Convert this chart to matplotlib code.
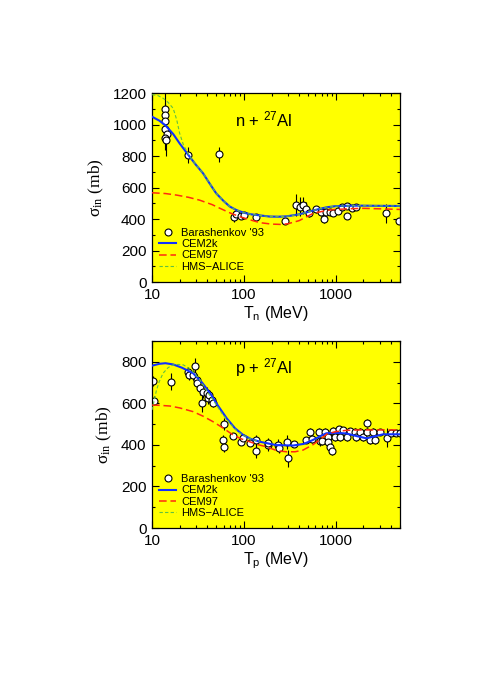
import matplotlib
matplotlib.use("Agg")
import matplotlib.pyplot as plt
from matplotlib.ticker import MultipleLocator, LogLocator, FixedLocator, NullFormatter
import numpy as np

plt.rcParams['font.family'] = ['Liberation Sans', 'DejaVu Sans']
plt.rcParams['mathtext.default'] = 'regular'

# ---- n + 27Al : Barashenkov '93 data ----
n_T = [13.8, 13.8, 13.9, 14.0, 14.4, 13.9, 14.1, 24.7, 53.5, 77.5, 82.6, 93.5, 101,
       135, 283, 367, 405, 440, 470, 515, 610, 695, 740, 780, 860, 930, 1050, 1170,
       1320, 1340, 1500, 1680, 3500, 4900]
n_sig = [1100, 1060, 1020, 970, 940, 915, 900, 805, 810, 410, 432, 421, 425,
         415, 390, 492, 478, 488, 466, 440, 461, 443, 398, 446, 446, 440, 453, 478,
         483, 419, 470, 478, 436, 389]
n_err = [40, 40, 180, 40, 30, 40, 100, 50, 50, 30, 20, 15, 15,
         15, 15, 70, 60, 55, 40, 30, 25, 25, 20, 20, 15, 15, 15, 20,
         20, 20, 20, 15, 60, 20]

# model curves, n + 27Al
n_cem2k_T = [10, 12, 14, 17, 20, 25, 30, 36, 43, 50, 60, 70, 83, 100, 120, 150, 190,
             240, 290, 400, 600, 800, 1000, 1500, 2000, 3000, 5000]
n_cem2k = [1050, 1025, 995, 940, 880, 805, 745, 690, 620, 563, 515, 480, 457, 440, 430,
           423, 416, 415, 417, 430, 458, 475, 482, 485, 485, 484, 483]
n_hms_T = [10, 11.5, 13.3, 15, 17, 18.6, 20, 22, 25, 30, 36, 43, 50, 60, 70, 83, 100,
           120, 150, 190, 240, 290, 400, 600, 800, 1000, 1500, 2000, 3000, 5000]
n_hms = [1190, 1185, 1166, 1140, 1103, 1029, 944, 870, 810, 745, 690, 620, 563, 515,
         480, 457, 440, 430, 423, 416, 415, 417, 430, 458, 475, 482, 485, 485, 484, 483]
n_cem97_T = [10, 14, 18.6, 25, 33, 45, 55, 70, 90, 120, 150, 200, 250, 300, 400, 566,
             800, 1000, 1500, 2000, 3000, 5000]
n_cem97 = [567, 562, 552, 538, 520, 492, 468, 440, 415, 393, 377, 368, 366, 370, 390,
           436, 455, 461, 466, 468, 465, 461]

# ---- p + 27Al : Barashenkov '93 data ----
p_T = [10.2, 10.5, 16.2, 24.8, 25.4, 27.7, 29.3, 30.6, 31, 33.2, 34.6, 36.1, 39.3, 41,
       42, 44.5, 46.4, 60.6, 59.7, 61.2, 76.4, 94, 98, 115.8, 134, 134, 182, 185, 234,
       240, 291, 303, 348, 470, 520, 556, 657, 666, 710, 760, 826, 830, 862, 905, 933,
       975, 1080, 1107, 1200, 1330, 1420, 1610, 1680, 1830, 1980, 2190, 2200, 2330,
       2530, 2700, 3020, 3640, 4020, 4540, 4950]
p_sig = [707, 613, 704, 752, 736, 736, 780, 712, 696, 672, 603, 656, 648, 624,
         640, 616, 603, 500, 424, 391, 443, 415, 432, 408, 424, 372, 398, 410, 400,
         384, 415, 335, 403, 424, 461, 428, 461, 417, 420, 461, 437, 415, 391, 371, 468,
         437, 475, 437, 472, 437, 468, 464, 437, 464, 440, 504, 464, 424,
         464, 424, 461, 435, 456, 456, 456]
p_err = [25, 20, 40, 25, 25, 25, 40, 30, 25, 30, 45, 30, 30, 25,
         25, 20, 20, 30, 25, 25, 15, 15, 15, 15, 25, 35, 25, 25, 30,
         25, 35, 40, 15, 15, 20, 20, 20, 20, 20, 20, 20, 20, 20, 20, 20,
         20, 15, 20, 15, 20, 15, 15, 20, 15, 20, 20, 15, 20,
         15, 20, 15, 45, 15, 15, 15]

p_cem2k_T = [10, 12, 14, 17, 21, 28, 35, 43, 52, 65, 80, 98, 120, 150, 225, 344, 450,
             566, 700, 790, 1000, 1300, 1700, 2150, 2700, 3270, 5000]
p_cem2k = [781, 790, 793, 787, 772, 745, 700, 648, 590, 528, 480, 448, 428, 415, 399,
           397, 405, 424, 445, 456, 458, 455, 442, 432, 442, 451, 451]
p_hms_T = [10, 11.2, 12, 13.2, 15, 17, 19.5, 21.9, 25, 28, 33, 40, 48, 58, 70, 85, 100,
           120, 150]
p_hms = [568, 664, 705, 745, 772, 785, 787, 785, 770, 752, 715, 655, 605, 550, 505, 465,
         445, 428, 415]
p_cem97_T = [10, 12.5, 15.7, 20, 28, 36, 46, 60, 76, 95, 116, 140, 176, 230, 291, 360,
             440, 560, 667, 800, 1000, 1300, 1830, 3000, 5000]
p_cem97 = [592, 590, 587, 578, 560, 538, 512, 480, 448, 428, 415, 402, 391, 372, 367,
           367, 375, 400, 424, 452, 464, 470, 472, 472, 472]

panels = [
    dict(T=n_T, sig=n_sig, err=n_err, c2T=n_cem2k_T, c2=n_cem2k, hT=n_hms_T, h=n_hms,
         c9T=n_cem97_T, c9=n_cem97, ymax=1200, title='n + $^{27}$Al',
         xlabel='T$_{n}$ (MeV)', rect=[0.3096, 0.593, 0.505, 0.2727]),
    dict(T=p_T, sig=p_sig, err=p_err, c2T=p_cem2k_T, c2=p_cem2k, hT=p_hms_T, h=p_hms,
         c9T=p_cem97_T, c9=p_cem97, ymax=900, title='p + $^{27}$Al',
         xlabel='T$_{p}$ (MeV)', rect=[0.3096, 0.238, 0.505, 0.270]),
]

fig = plt.figure(figsize=(4.91, 6.93), dpi=100)

for p in panels:
    ax = fig.add_axes(p['rect'])
    ax.set_facecolor('#ffff00')
    ax.errorbar(p['T'], p['sig'], yerr=p['err'], fmt='o', ms=5, mfc='white', mec='k',
                mew=0.8, ecolor='k', elinewidth=0.8, capsize=0, zorder=2)
    ax.plot(p['c2T'], p['c2'], color='#1030ff', lw=1.5, zorder=3)
    ax.plot(p['c9T'], p['c9'], color='#ff2a10', lw=1.1, dashes=(5, 2.5), zorder=3)
    ax.plot(p['hT'], p['h'], color='#60c040', lw=0.8, dashes=(3, 2), zorder=4)

    ax.set_xscale('log')
    ax.set_xlim(10, 5000)
    ax.set_ylim(0, p['ymax'])
    ax.yaxis.set_major_locator(MultipleLocator(200))
    ax.yaxis.set_minor_locator(MultipleLocator(100))
    ax.xaxis.set_major_locator(FixedLocator([10, 100, 1000]))
    ax.xaxis.set_major_formatter(matplotlib.ticker.FixedFormatter(['10', '100', '1000']))
    ax.xaxis.set_minor_locator(LogLocator(base=10, subs=np.arange(2, 10)))
    ax.xaxis.set_minor_formatter(NullFormatter())
    ax.tick_params(which='both', direction='in', top=True, right=True, labelsize=11,
                   width=0.8)
    ax.tick_params(which='major', length=5, pad=4)
    ax.tick_params(which='minor', length=2.5)
    for s in ax.spines.values():
        s.set_linewidth(0.9)

    ax.set_xlabel(p['xlabel'], fontsize=11.5, labelpad=2)
    ax.set_ylabel(r'$\sigma_{in}$ (mb)', fontsize=12.5, family='Liberation Serif', labelpad=5)
    ax.text(0.45, 0.86, p['title'], transform=ax.transAxes, fontsize=12,
            ha='center', va='center')

    # legend proxies
    h0, = ax.plot([], [], 'o', ms=5, mfc='white', mec='k', mew=0.8)
    h1, = ax.plot([], [], color='#1030ff', lw=1.5)
    h2, = ax.plot([], [], color='#ff2a10', lw=1.1, dashes=(5, 2.5))
    h3, = ax.plot([], [], color='#60c040', lw=0.8, dashes=(3, 2))
    ax.legend([h0, h1, h2, h3], ["Barashenkov '93", 'CEM2k', 'CEM97', 'HMS\u2212ALICE'],
              loc='lower left', bbox_to_anchor=(0.0, 0.02), frameon=False, fontsize=8,
              handlelength=1.6, handletextpad=0.4, labelspacing=0.1, numpoints=1,
              borderaxespad=0.2)

plt.savefig('out.png', dpi=100)
